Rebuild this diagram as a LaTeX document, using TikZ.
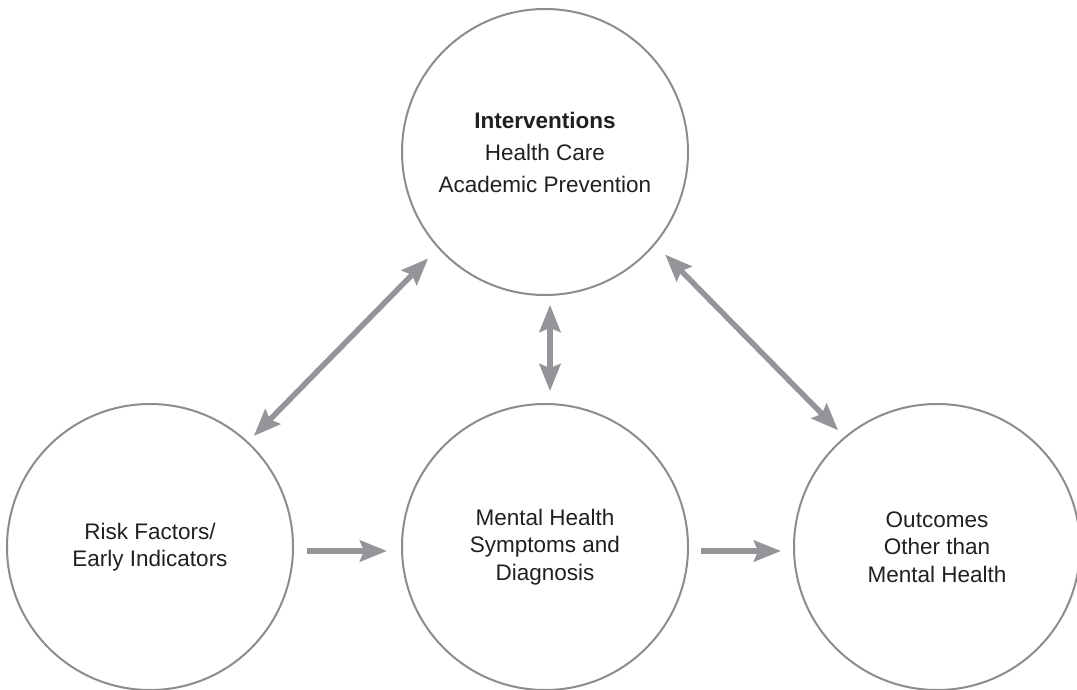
\documentclass[tikz,border=0pt]{standalone}
\usepackage{fontspec}
\setmainfont{Liberation Sans}
\usetikzlibrary{arrows.meta}
\definecolor{ringgray}{HTML}{8C8C8E}
\definecolor{arrgray}{HTML}{939598}
\definecolor{txt}{HTML}{231F20}
\tikzset{
  x=1pt, y=-1pt,
  ring/.style={circle, draw=ringgray, line width=2pt, minimum size=286pt, inner sep=0pt,
    align=center, text=txt, font=\fontsize{22.5}{27.5}\selectfont},
  tip/.style={Stealth[length=27pt,width=21pt,inset=4pt]},
  arr/.style={draw=arrgray, line width=5.5pt, -{Stealth[length=27pt,width=21pt,inset=4pt]}},
  darr/.style={draw=arrgray, line width=5.5pt,
    {Stealth[length=27pt,width=21pt,inset=4pt]}-{Stealth[length=27pt,width=21pt,inset=4pt]}}
}
\begin{document}
\begin{tikzpicture}
\useasboundingbox (0,0) rectangle (1077,689);
\node[ring, font=\fontsize{22.5}{32}\selectfont] (ip) at (545,152) {\textbf{Interventions}\\Health Care\\Academic Prevention};
\node[ring] (ri) at (150,547) {Risk Factors/\\Early Indicators};
\node[ring] (mh) at (545,547) {Mental Health\\Symptoms and\\Diagnosis};
\node[ring] (oc) at (937,547) {Outcomes\\Other than\\Mental Health};
\draw[darr, shorten <=8pt, shorten >=14pt] (ri.47) -- (ip.222);
\draw[darr, shorten <=14pt, shorten >=9pt] (ip.-40) -- (oc.130);
\draw[darr, shorten <=9pt, shorten >=12pt] (ip.-88) -- (mh.88);
\draw[arr, shorten <=13pt, shorten >=14pt] ([yshift=-4pt]ri.east) -- ([yshift=-4pt]mh.west);
\draw[arr, shorten <=12pt, shorten >=12pt] ([yshift=-4pt]mh.east) -- ([yshift=-4pt]oc.west);
\end{tikzpicture}
\end{document}
